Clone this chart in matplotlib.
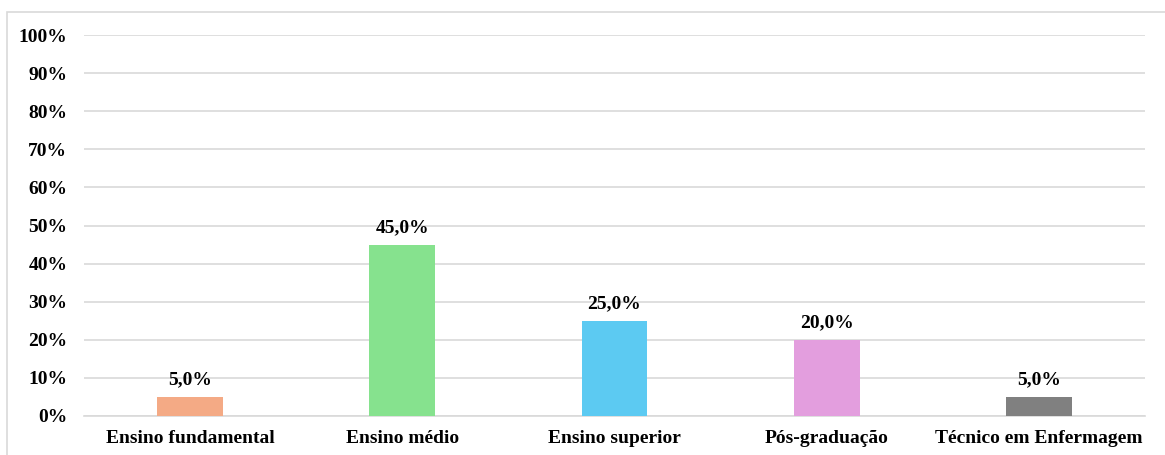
from matplotlib import pyplot as plt
from matplotlib.patches import Rectangle
from matplotlib.ticker import FuncFormatter
import numpy as np

categories = ['Ensino fundamental', 'Ensino médio', 'Ensino superior',
              'Pós-graduação', 'Técnico em Enfermagem']
values = [5.0, 45.0, 25.0, 20.0, 5.0]
colors = ['#F4AA85', '#86E28E', '#5CCAF2', '#E39EDE', '#808080']

plt.rcParams['font.family'] = ['Liberation Serif', 'DejaVu Serif']
plt.rcParams['font.weight'] = 'bold'

W, H = 1165, 455
fig = plt.figure(figsize=(W / 100, H / 100), dpi=100)
ax = fig.add_axes([84 / W, 39 / H, (1145 - 84) / W, (420 - 39) / H])

# outer chart frame (only left and top visible)
fig.patches.append(Rectangle((7 / W, -0.2), 1.2, 1.2 - 12 / H, transform=fig.transFigure,
                             fill=False, edgecolor='#d9d9d9', linewidth=1.2))

x = np.arange(len(categories))
bars = ax.bar(x, values, width=0.31, color=colors, zorder=3)

for b, v in zip(bars, values):
    ax.annotate(('%.1f%%' % v).replace('.', ','), (b.get_x() + b.get_width() / 2, v),
                xytext=(0, 6), textcoords='offset points', ha='center', va='bottom',
                fontsize=14, fontweight='bold')

ax.set_xlim(-0.5, len(categories) - 0.5)
ax.set_ylim(0, 100)
ax.set_yticks(np.arange(0, 101, 10))
ax.yaxis.set_major_formatter(FuncFormatter(lambda v, p: '%d%%' % v))
ax.set_xticks(x)
ax.set_xticklabels(categories)
ax.tick_params(axis='both', length=0, labelsize=14)
ax.tick_params(axis='y', pad=12)
ax.tick_params(axis='x', pad=10)
ax.grid(axis='y', color='#d9d9d9', linewidth=1.2, zorder=0)
for s in ['top', 'right', 'left']:
    ax.spines[s].set_visible(False)
ax.spines['bottom'].set_color('#d9d9d9')
ax.spines['bottom'].set_linewidth(1.2)

fig.savefig('out.png', dpi=100)
